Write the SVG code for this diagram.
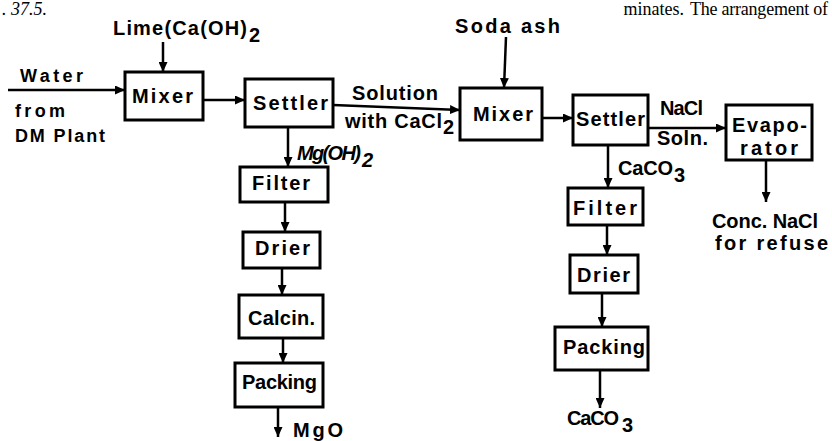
<svg xmlns="http://www.w3.org/2000/svg" width="832" height="441" viewBox="0 0 832 441">
<defs>
<style>
.box{fill:#fff;stroke:#000;stroke-width:3}
.ln{stroke:#000;stroke-width:2.5;fill:none;marker-end:url(#ah)}
.t{font-family:"Liberation Sans",Arial,sans-serif;font-weight:bold;font-size:20px;fill:#000}
.s{font-size:18px}
.hd{font-family:"Liberation Serif","Times New Roman",serif;font-size:18px;fill:#000}
</style>
<marker id="ah" markerUnits="userSpaceOnUse" markerWidth="10" markerHeight="9" refX="10" refY="4.5" orient="auto">
<path d="M0,0 L10,4.5 L0,9 z" fill="#000"/>
</marker>
</defs>
<rect width="832" height="441" fill="#fff"/>
<text class="hd" x="2" y="15" font-style="italic" font-size="20">. 37.5.</text>
<text class="hd" x="684" y="15" text-anchor="end">minates.</text>
<text class="hd" x="690" y="15" textLength="138">The arrangement of</text>

<g id="connectors">
<line class="ln" x1="8" y1="90" x2="125" y2="90"/>
<line class="ln" x1="163" y1="42" x2="163" y2="72"/>
<line class="ln" x1="203" y1="100" x2="245" y2="100"/>
<line class="ln" x1="333" y1="105" x2="460" y2="110"/>
<line class="ln" x1="506" y1="37" x2="504" y2="88"/>
<line class="ln" x1="542" y1="118" x2="573" y2="118"/>
<line class="ln" x1="648" y1="128" x2="726" y2="128"/>
<line class="ln" x1="766" y1="160" x2="766" y2="202"/>
<line class="ln" x1="288" y1="127" x2="288" y2="167"/>
<line class="ln" x1="285" y1="202" x2="285" y2="232"/>
<line class="ln" x1="282" y1="268" x2="282" y2="295"/>
<line class="ln" x1="283" y1="338" x2="283" y2="363"/>
<line class="ln" x1="278" y1="407" x2="278" y2="437"/>
<line class="ln" x1="608" y1="145" x2="608" y2="188"/>
<line class="ln" x1="607" y1="225" x2="607" y2="255"/>
<line class="ln" x1="602" y1="293" x2="602" y2="327"/>
<line class="ln" x1="600" y1="370" x2="600" y2="408"/>
</g>

<g id="labels">
<text class="t" x="113" y="35" font-size="21" textLength="134">Lime(Ca(OH)</text>
<text class="t" x="249" y="42" font-size="15">2</text>
<text class="t s" x="20" y="82" textLength="63">Water</text>
<text class="t s" x="15" y="117" textLength="50">from</text>
<text class="t s" x="15" y="142" textLength="90">DM Plant</text>
<text class="t" x="352" y="100" font-size="19" textLength="86">Solution</text>
<text class="t" x="345" y="128" font-size="19" textLength="97">with CaCl</text>
<text class="t" x="443" y="134" font-size="13">2</text>
<text class="t" x="297" y="160" font-size="18" font-style="italic" textLength="64">Mg(OH)</text>
<text class="t" x="362" y="167" font-size="14" font-style="italic">2</text>
<text class="t" x="293" y="437" textLength="50">MgO</text>
<text class="t" x="455" y="33" textLength="105">Soda ash</text>
<text class="t" x="660" y="115" font-size="16" textLength="43">NaCl</text>
<text class="t" x="657" y="145" font-size="16" textLength="51">Soln.</text>
<text class="t" x="618" y="175" font-size="18" textLength="55">CaCO</text>
<text class="t" x="674" y="182" font-size="13">3</text>
<text class="t" x="712" y="228" font-size="19" textLength="106">Conc. NaCl</text>
<text class="t" x="715" y="250" font-size="19" textLength="113">for refuse</text>
<text class="t" x="567" y="425" font-size="18" textLength="52">CaCO</text>
<text class="t" x="622" y="432" font-size="13">3</text>
</g>

<g id="mixer1"><rect class="box" x="125" y="72" width="78" height="48"/><text class="t" x="132" y="103" textLength="61">Mixer</text></g>
<g id="settler1"><rect class="box" x="245" y="79" width="88" height="48"/><text class="t" x="253" y="110" textLength="75">Settler</text></g>
<g id="filter1"><rect class="box" x="240" y="167" width="88" height="35"/><text class="t" x="252" y="190" textLength="58">Filter</text></g>
<g id="drier1"><rect class="box" x="243" y="232" width="77" height="36"/><text class="t" x="255" y="255" textLength="55">Drier</text></g>
<g id="calcin"><rect class="box" x="239" y="295" width="84" height="43"/><text class="t" x="248" y="325" textLength="67">Calcin.</text></g>
<g id="packing1"><rect class="box" x="235" y="363" width="88" height="44"/><text class="t" x="242" y="389" textLength="75">Packing</text></g>
<g id="mixer2"><rect class="box" x="460" y="88" width="82" height="52"/><text class="t" x="473" y="121" font-size="21" textLength="60">Mixer</text></g>
<g id="settler2"><rect class="box" x="573" y="95" width="75" height="50"/><text class="t" x="576" y="126" textLength="69">Settler</text></g>
<g id="evaporator"><rect class="box" x="726" y="105" width="86" height="55"/><text class="t" x="732" y="132" textLength="75">Evapo-</text><text class="t" x="740" y="155" textLength="58">rator</text></g>
<g id="filter2"><rect class="box" x="568" y="188" width="75" height="37"/><text class="t" x="573" y="215" textLength="64">Filter</text></g>
<g id="drier2"><rect class="box" x="570" y="255" width="68" height="38"/><text class="t" x="577" y="282" textLength="53">Drier</text></g>
<g id="packing2"><rect class="box" x="555" y="327" width="93" height="43"/><text class="t" x="563" y="354" textLength="82">Packing</text></g>
</svg>
